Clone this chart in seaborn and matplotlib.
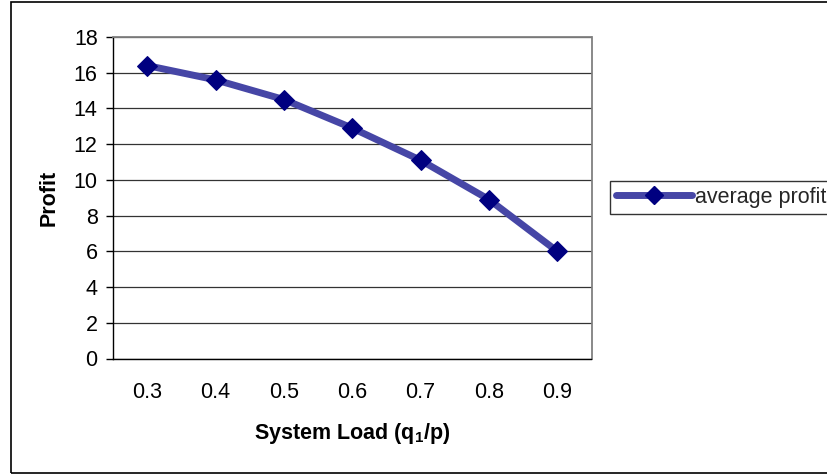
import matplotlib
matplotlib.use("Agg")
import matplotlib.pyplot as plt
from matplotlib.patches import Rectangle
from matplotlib.lines import Line2D
import seaborn as sns
import pandas as pd
import numpy as np

# Data
loads = ["0.3", "0.4", "0.5", "0.6", "0.7", "0.8", "0.9"]
avg_profit = [16.4, 15.6, 14.5, 12.9, 11.1, 8.9, 6.0]
y_ticks = [0, 2, 4, 6, 8, 10, 12, 14, 16, 18]

sns.set_theme(style="white")
plt.rcParams["font.family"] = ["Liberation Sans", "DejaVu Sans"]

df = pd.DataFrame({"load": loads, "profit": avg_profit})

W, H = 827, 475
fig = plt.figure(figsize=(W / 100, H / 100), dpi=100)
fig.patch.set_facecolor("white")
left, right, top, bottom = 113, 591.5, 37, 358.5
ax = fig.add_axes([left / W, 1 - bottom / H, (right - left) / W, (bottom - top) / H])

line_color = "#4646a6"
marker_color = "#000080"
fs = 15.5

sns.lineplot(data=df, x="load", y="profit", ax=ax, color=line_color, lw=5,
             marker="D", markersize=10.5, markerfacecolor=marker_color,
             markeredgecolor=marker_color, sort=False)

# Axes, ticks and grid
ax.set_xlim(-0.5, len(loads) - 0.5)
ax.set_ylim(0, 18)
ax.set_yticks(y_ticks)
ax.set_xticks(np.arange(len(loads)))
ax.set_xticklabels(loads)
ax.set_xticks(np.arange(-0.5, len(loads)), minor=True)
ax.tick_params(axis="x", which="major", length=0, labelsize=fs, pad=17, colors="black")
ax.tick_params(axis="x", which="minor", length=4, width=1, color="black", direction="out")
ax.tick_params(axis="y", which="major", length=5, width=1, color="black", direction="out",
               labelsize=fs, pad=6, left=True, labelcolor="black")
ax.yaxis.grid(True, color="#333333", lw=0.9)
ax.xaxis.grid(False)
ax.set_axisbelow(True)

for side in ("left", "bottom"):
    ax.spines[side].set_color("black")
    ax.spines[side].set_linewidth(1)
for side in ("top", "right"):
    ax.spines[side].set_color("#808080")
    ax.spines[side].set_linewidth(1.3)

ax.set_xlabel("System Load (q$_\\mathregular{1}$/p)", fontsize=fs, fontweight="bold",
              labelpad=13, color="black")
ax.set_ylabel("Profit", fontsize=fs, fontweight="bold", labelpad=10, color="black")

# Legend
handle = Line2D([], [], color=line_color, lw=5, marker="D", markersize=9,
                markerfacecolor=marker_color, markeredgecolor=marker_color)
leg = fig.legend([handle], ["average profit"], loc="center left",
                 bbox_to_anchor=(610 / W, 1 - 197.5 / H), frameon=True,
                 fancybox=False, fontsize=fs, handlelength=3.5, handletextpad=0.15,
                 borderpad=0.3, borderaxespad=0)
leg.get_frame().set_edgecolor("black")
leg.get_frame().set_linewidth(1)

# Chart border
fig.patches.append(Rectangle((11 / W, 2 / H), 1.2, 471 / H, transform=fig.transFigure,
                             fill=False, edgecolor="black", lw=1.2, clip_on=False))

fig.savefig("out.png", dpi=100, facecolor="white")
